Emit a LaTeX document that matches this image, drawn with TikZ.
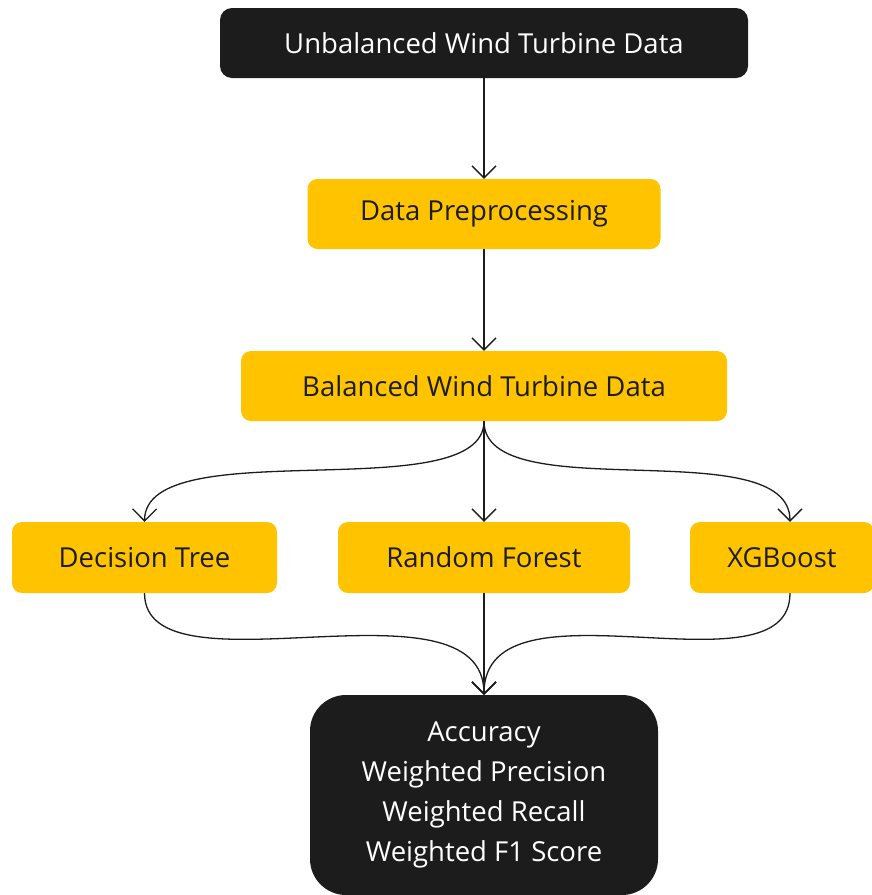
\documentclass[tikz,border=0pt]{standalone}
\usepackage{fontspec}
\setmainfont{Open Sans}
\usetikzlibrary{arrows.meta}
\definecolor{boxblack}{HTML}{1C1C1C}
\definecolor{boxyellow}{HTML}{FFC300}
\begin{document}
\begin{tikzpicture}[x=1pt, y=-1pt,
		dark/.style={fill=boxblack, text=white, rounded corners=12pt, inner sep=0pt},
		light/.style={fill=boxyellow, text=boxblack, rounded corners=10pt, inner sep=0pt},
		flow/.style={-{Straight Barb[length=12pt,width=24pt]}, line width=1.3pt, draw=boxblack},
		font=\fontsize{27.5}{40}\selectfont]
		\useasboundingbox (0,0) rectangle (872,895);
		\node[dark, minimum width=528pt, minimum height=70pt] (unbal) at (484, 43) {Unbalanced Wind Turbine Data};
		\node[light, minimum width=353pt, minimum height=70pt] (prep) at (484, 214) {Data Preprocessing};
		\node[light, minimum width=486pt, minimum height=70pt] (bal) at (484, 386) {Balanced Wind Turbine Data};
		\node[light, minimum width=265pt, minimum height=71pt] (dtree) at (144.5, 557.5) {Decision Tree};
		\node[light, minimum width=292pt, minimum height=71pt] (rforest) at (484, 557.5) {Random Forest};
		\node[light, minimum width=184pt, minimum height=71pt] (xgb) at (782, 557.5) {XGBoost};
		\node[dark, rounded corners=36pt, minimum width=348pt, minimum height=200pt, align=center] (metrics) at (484, 795)
		{Accuracy\\Weighted Precision\\Weighted Recall\\Weighted F1 Score};
		\draw[flow] (unbal.south) -- (prep.north);
		\draw[flow] (prep.south) -- (bal.north);
		\draw[flow] (bal.south) -- (rforest.north);
		\draw[flow] (bal.south) .. controls (484, 510) and (145, 430) .. (dtree.north);
		\draw[flow] (bal.south) .. controls (484, 510) and (790, 430) .. ([xshift=8pt]xgb.north);
		\draw[flow] (rforest.south) -- (metrics.north);
		\draw[flow] (dtree.south) .. controls (145, 700) and (484, 570) .. (metrics.north);
		\draw[flow] ([xshift=8pt]xgb.south) .. controls (790, 700) and (484, 570) .. (metrics.north);
	\end{tikzpicture}
\end{document}
